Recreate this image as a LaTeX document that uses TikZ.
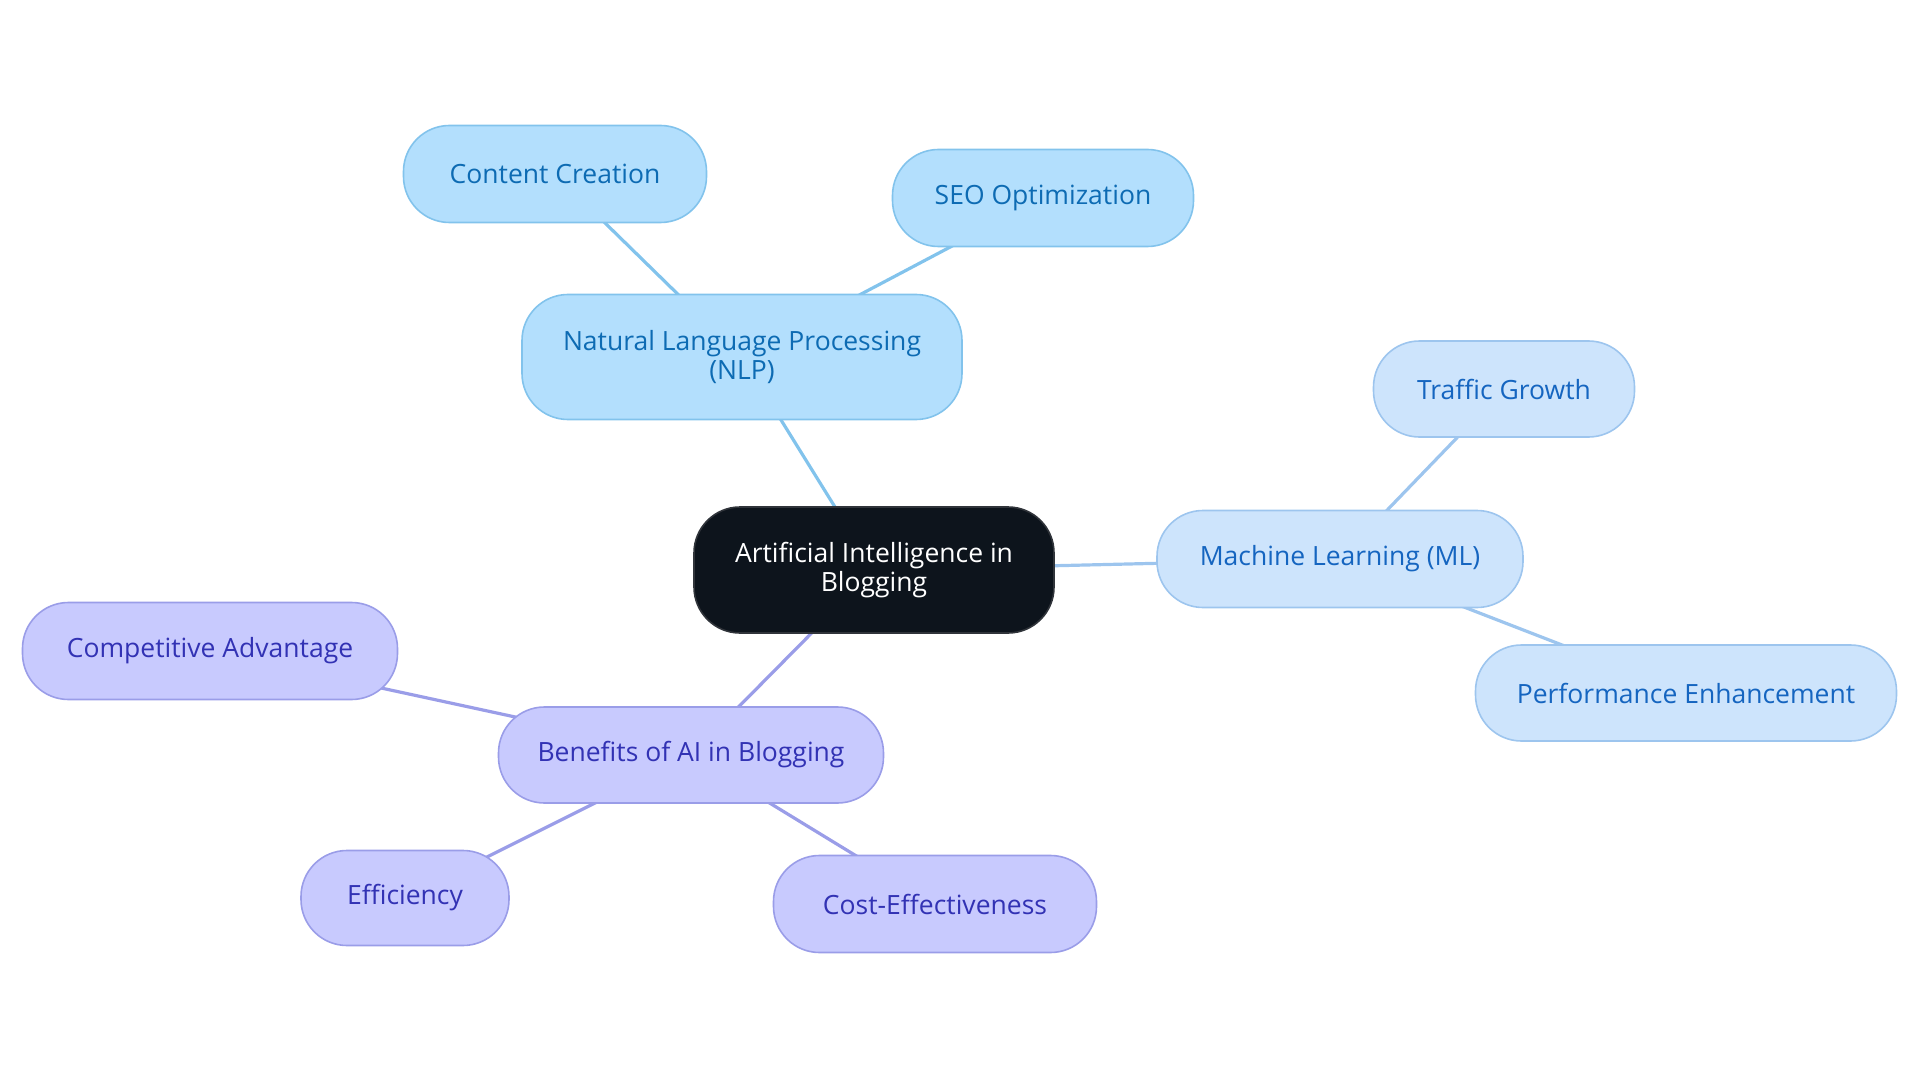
\documentclass[tikz,border=0pt]{standalone}
\usepackage{fontspec}
\setmainfont{Open Sans}
\pgfdeclarelayer{background}
\pgfsetlayers{background,main}
\definecolor{nlpfill}{HTML}{B3DFFD}
\definecolor{nlpdraw}{HTML}{82C3EC}
\definecolor{nlptext}{HTML}{0D6BB3}
\definecolor{mlfill}{HTML}{CDE4FC}
\definecolor{mldraw}{HTML}{9DC5EE}
\definecolor{mltext}{HTML}{1565C0}
\definecolor{bnfill}{HTML}{C8CAFE}
\definecolor{bndraw}{HTML}{9A9DE8}
\definecolor{bntext}{HTML}{3232B4}
\definecolor{rootfill}{HTML}{0D141C}
\definecolor{rootdraw}{HTML}{30343A}
\tikzset{
  base/.style={rounded corners=46pt, line width=1.6pt, align=center, inner sep=0pt,
    font=\fontsize{26.5}{28.5}\selectfont},
  root/.style={base, fill=rootfill, draw=rootdraw, text=white},
  nlpbox/.style={base, fill=nlpfill, draw=nlpdraw, text=nlptext},
  mlbox/.style={base, fill=mlfill, draw=mldraw, text=mltext},
  bnbox/.style={base, fill=bnfill, draw=bndraw, text=bntext},
  nlpedge/.style={draw=nlpdraw, line width=3.2pt},
  mledge/.style={draw=mldraw, line width=3.2pt},
  bnedge/.style={draw=bndraw, line width=3.2pt},
}
\begin{document}
\begin{tikzpicture}[x=1pt,y=-1pt]
\useasboundingbox (0,0) rectangle (1920,1083);
\node[root, minimum width=360pt, minimum height=126pt] (ai) at (874,570) {Artificial Intelligence in\\Blogging};
\node[nlpbox, minimum width=440pt, minimum height=125pt] (nlp) at (742,357) {Natural Language Processing\\(NLP)};
\node[nlpbox, minimum width=303pt, minimum height=97pt] (cc) at (555,174) {Content Creation};
\node[nlpbox, minimum width=301pt, minimum height=97pt] (seo) at (1043,198) {SEO Optimization};
\node[mlbox, minimum width=366pt, minimum height=97pt] (ml) at (1340,559) {Machine Learning (ML)};
\node[mlbox, minimum width=261pt, minimum height=96pt] (tg) at (1504,389) {Traffic Growth};
\node[mlbox, minimum width=421pt, minimum height=96pt] (pe) at (1686,693) {Performance Enhancement};
\node[bnbox, minimum width=385pt, minimum height=96pt] (bn) at (691,755) {Benefits of AI in Blogging};
\node[bnbox, minimum width=375pt, minimum height=97pt] (ca) at (210,651) {Competitive Advantage};
\node[bnbox, minimum width=208pt, minimum height=95pt] (ef) at (405,898) {Efficiency};
\node[bnbox, minimum width=323pt, minimum height=97pt] (ce) at (935,904) {Cost-Effectiveness};
\begin{pgfonlayer}{background}
\draw[nlpedge] (ai.center) -- (nlp.center);
\draw[nlpedge] (nlp.center) -- (cc.center);
\draw[nlpedge] (nlp.center) -- (seo.center);
\draw[mledge] (ai.center) -- (ml.center);
\draw[mledge] (ml.center) -- (tg.center);
\draw[mledge] (ml.center) -- (pe.center);
\draw[bnedge] (ai.center) -- (bn.center);
\draw[bnedge] (bn.center) -- (ca.center);
\draw[bnedge] (bn.center) -- (ef.center);
\draw[bnedge] (bn.center) -- (ce.center);
\end{pgfonlayer}
\end{tikzpicture}
\end{document}
